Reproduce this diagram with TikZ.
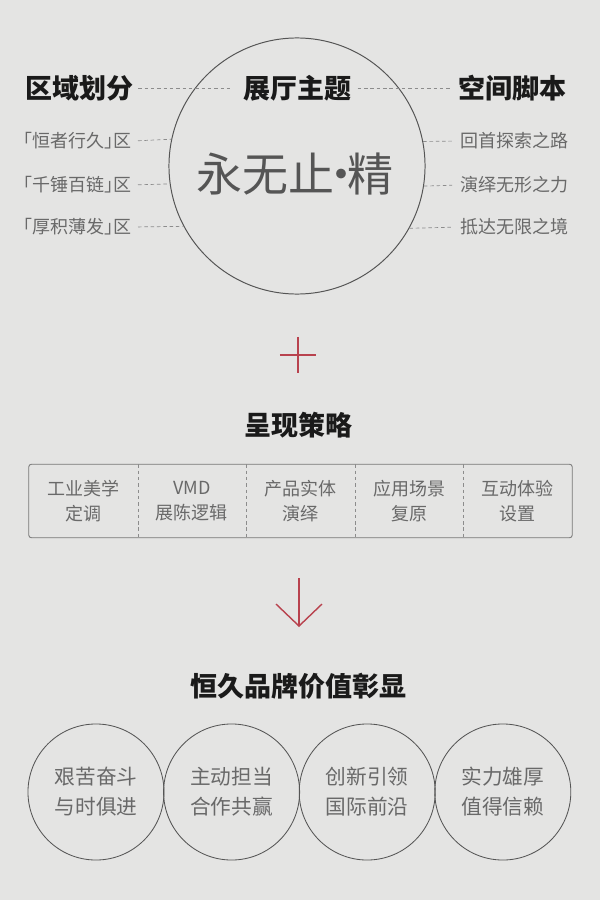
\documentclass[tikz,border=0pt]{standalone}
\usepackage{fontspec}
\usepackage{xcolor}
\usepackage{tikz}
\usetikzlibrary{arrows.meta}
\newfontfamily\cjk{Noto Sans CJK SC}
\definecolor{paper}{RGB}{228,228,227}
\definecolor{ink}{RGB}{26,26,26}
\definecolor{soft}{RGB}{105,105,105}
\definecolor{rim}{RGB}{85,85,85}
\definecolor{dashc}{RGB}{140,140,140}
\definecolor{cinnabar}{RGB}{184,66,78}
\tikzset{every node/.style={inner sep=0pt,font=\cjk},
  head/.style={font=\cjk\bfseries\fontsize{19.2}{23}\selectfont,text=ink},
  item/.style={font=\cjk\fontsize{12.8}{15}\selectfont,text=soft},
  dl/.style={draw=dashc,line width=.5pt,dash pattern=on 2.5pt off 2pt},
  redline/.style={draw=cinnabar,line width=1pt},
  cell/.style={minimum width=2.715cm,minimum height=1.825cm,align=center,font=\cjk\fontsize{12.8}{17.8}\selectfont,text=soft},
  value/.style={draw=rim,line width=.6pt,circle,minimum size=3.4cm,align=center,font=\cjk\fontsize{14.7}{21.3}\selectfont,text=soft}}
\newcommand{\cnd}[3][]{\draw[dl,#1] (#2) -- (#3);}
\newcommand{\ntext}[4][]{\node[#1] (#2) at (#3) {#4};}
\newcommand{\lbk}{\makebox[.5em][r]{「}}
\newcommand{\rbk}{\makebox[.5em][l]{」}}
\newcommand{\mdot}{\makebox[.3em]{·}}

\begin{document}
\begin{tikzpicture}[x=0.025cm,y=-0.025cm]
    \fill[paper] (0,0) rectangle (600,900);

    % theme circle and headings
    \node[draw=rim,line width=.7pt,circle,minimum size=6.4cm] (core) at (297,166) {};
    \ntext[head]{zone}{79,88}{区域划分}
    \ntext[head]{theme}{297,88}{展厅主题}
    \ntext[head]{script}{512,88}{空间脚本}
    \cnd[shorten <=.125cm,shorten >=.3cm]{zone.east}{theme.west}
    \cnd[shorten <=.16cm,shorten >=.18cm]{theme.east}{script.west}
    \ntext[font=\cjk\fontsize{32.7}{36}\selectfont,text=rim]{jing}{295,174}{永无止\mdot 精}

    \ntext[item,anchor=east]{z1}{132,141}{\lbk 恒者行久\rbk 区} \cnd[shorten <=.15cm]{z1.east}{core.168.7}
    \ntext[item,anchor=east]{z2}{132,185}{\lbk 千锤百链\rbk 区} \cnd[shorten <=.15cm]{z2.east}{core.188.5}
    \ntext[item,anchor=east]{z3}{132,227}{\lbk 厚积薄发\rbk 区} \cnd[shorten <=.15cm]{z3.east}{core.208.5}

    \ntext[item,anchor=west]{s1}{460,141}{回首探索之路} \cnd[shorten >=.2cm]{core.11.3}{s1.west}
    \ntext[item,anchor=west]{s2}{460,185}{演绎无形之力} \cnd[shorten >=.2cm]{core.351.5}{s2.west}
    \ntext[item,anchor=west]{s3}{460,227}{抵达无限之境} \cnd[shorten >=.2cm]{core.331.5}{s3.west}

    % plus
    \coordinate (plus) at (298,355);
    \draw[redline] ([xshift=-.45cm]plus) -- ([xshift=.45cm]plus);
    \draw[redline] ([yshift=.45cm]plus) -- ([yshift=-.45cm]plus);

    % strategy row
    \ntext[head]{strategy}{298,425}{呈现策略}
    \foreach \t [count=\i] in {{工业美学\\定调},{VMD\\展陈逻辑},{产品实体\\演绎},{应用场景\\复原},{互动体验\\设置}}
        \node[cell] (c\i) at ({29+108.6*(\i-.5)},501) {\t};
    \draw[draw=rim!80,line width=.6pt,rounded corners=2pt] (c1.north west) rectangle (c5.south east);
    \foreach \i in {1,...,4}
        {\cnd{c\i.north east}{c\i.south east}}

    % arrow
    \coordinate (atop) at (299,578);
    \coordinate (atip) at (299,627);
    \draw[redline,-{Straight Barb[length=.55cm,width=1.15cm]}] (atop) -- (atip);

    % brand values
    \ntext[head]{brand}{298,686}{恒久品牌价值彰显}
    \foreach \t [count=\i] in {{艰苦奋斗\\与时俱进},{主动担当\\合作共赢},{创新引领\\国际前沿},{实力雄厚\\值得信赖}}
        \node[value] (v\i) at ({96+135.6*(\i-1)},792) {\t};
\end{tikzpicture}
\end{document}
